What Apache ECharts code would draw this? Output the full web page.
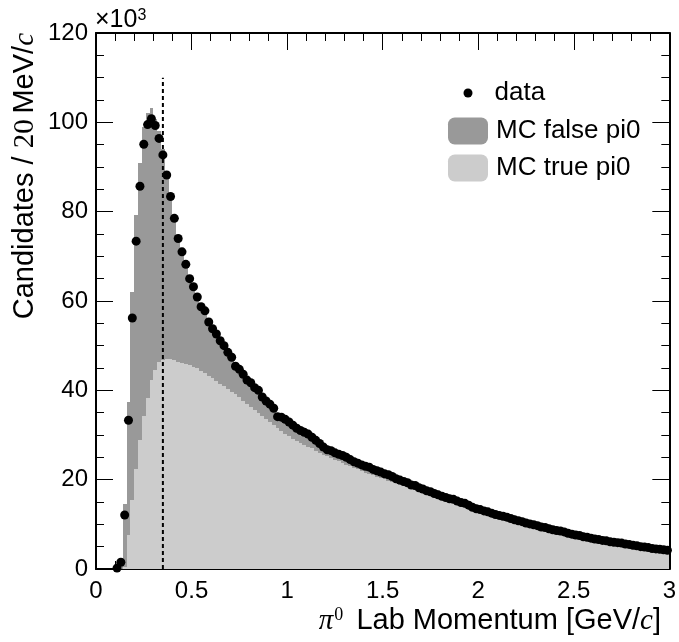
<!DOCTYPE html>
<html>
<head>
<meta charset="utf-8">
<script src="https://cdn.jsdelivr.net/npm/echarts@6.0.0/dist/echarts.min.js"></script>
<style>html,body{margin:0;padding:0;background:#fff}#chart{width:679px;height:642px}</style>
</head>
<body>
<div id="chart"></div>
<script>
// ---- binning (20 MeV bins from 0 to 3 GeV) ----
const binWidth = 0.02;
const xMin = 0, xMax = 3;
const yMin = 0, yMax = 120;
const xTickLabels = ['0', '0.5', '1', '1.5', '2', '2.5', '3'];
const yTickLabels = ['0', '20', '40', '60', '80', '100', '120'];

// ---- data points (per bin, x10^3), null = no point ----
const dataCounts = [
  null, null, null, null, null, 0.2, 1.5, 12.1, 33.3, 56.2,
  73.4, 85.7, 95.1, 99.5, 100.8, 99.3, 96.4, 92.7, 88.2, 83.4,
  78.5, 74.0, 71.0, 68.2, 65.0, 63.2, 60.9, 58.7, 57.8, 55.3,
  53.8, 52.6, 51.1, 50.0, 48.5, 47.4, 45.4, 44.7, 43.6, 42.3,
  41.7, 40.6, 40.0, 38.5, 37.6, 36.9, 36.0, 34.1, 34.0, 33.5,
  32.9, 32.2, 31.5, 31.0, 30.6, 30.2, 29.5, 28.8, 28.1, 27.3,
  26.7, 26.5, 26.0, 25.7, 25.4, 25.0, 24.5, 24.0, 23.7, 23.3,
  23.0, 22.8, 22.3, 22.0, 21.7, 21.3, 21.1, 20.7, 20.2, 19.9,
  19.6, 19.3, 18.8, 18.7, 18.2, 17.9, 17.5, 17.3, 16.9, 16.6,
  16.3, 16.0, 15.7, 15.6, 15.2, 14.9, 14.7, 14.3, 13.8, 13.5,
  13.3, 13.0, 12.8, 12.5, 12.2, 12.0, 11.8, 11.6, 11.3, 11.0,
  10.8, 10.6, 10.3, 10.1, 9.9, 9.7, 9.4, 9.3, 9.0, 8.8,
  8.6, 8.5, 8.3, 8.0, 7.8, 7.6, 7.5, 7.2, 7.1, 6.9,
  6.7, 6.6, 6.4, 6.3, 6.1, 6.0, 5.9, 5.8, 5.6, 5.5,
  5.3, 5.2, 5.0, 4.9, 4.8, 4.6, 4.5, 4.4, 4.3, 4.2
];

// ---- MC total (true + false pi0), per bin ----
const mcTotal = [
  0, 0, 0, 0, 0, 0, 0.6, 14.5, 37.4, 62.0,
  79.2, 90.8, 99.0, 102.0, 103.2, 100.8, 98.0, 94.0, 89.2, 84.2,
  79.3, 74.8, 71.6, 68.6, 65.5, 63.5, 61.3, 59.2, 57.6, 55.6,
  54.1, 52.7, 51.3, 50.0, 48.7, 47.4, 45.9, 44.8, 43.7, 42.5,
  41.6, 40.7, 39.8, 38.7, 37.8, 36.9, 36.0, 34.6, 34.0, 33.5,
  32.9, 32.3, 31.6, 31.1, 30.6, 30.1, 29.5, 28.8, 28.1, 27.4,
  26.9, 26.5, 26.1, 25.7, 25.3, 24.9, 24.5, 24.1, 23.7, 23.3,
  23.0, 22.7, 22.3, 22.0, 21.7, 21.4, 21.0, 20.6, 20.3, 20.0,
  19.6, 19.3, 18.9, 18.6, 18.2, 17.9, 17.6, 17.2, 16.9, 16.6,
  16.3, 16.0, 15.7, 15.5, 15.2, 14.9, 14.6, 14.3, 13.9, 13.6,
  13.3, 13.1, 12.8, 12.5, 12.2, 12.0, 11.8, 11.5, 11.3, 11.0,
  10.8, 10.6, 10.3, 10.1, 9.9, 9.7, 9.5, 9.3, 9.0, 8.8,
  8.6, 8.4, 8.2, 8.0, 7.8, 7.6, 7.4, 7.2, 7.1, 6.9,
  6.7, 6.6, 6.4, 6.3, 6.1, 6.0, 5.9, 5.7, 5.6, 5.5,
  5.3, 5.2, 5.0, 4.9, 4.8, 4.6, 4.5, 4.4, 4.3, 4.2
];

// ---- MC true pi0, per bin ----
const mcTrue = [
  0, 0, 0, 0, 0, 0, 0, 0.5, 7.6, 15.4,
  22.3, 28.9, 34.2, 38.3, 42.3, 44.5, 46.4, 46.9, 47.1, 47.0,
  46.7, 46.4, 46.2, 46.0, 45.7, 45.3, 45.0, 44.4, 43.8, 43.3,
  42.8, 42.2, 41.4, 40.9, 40.3, 39.7, 39.1, 38.4, 37.6, 36.9,
  36.2, 35.6, 34.9, 34.3, 33.6, 33.0, 32.3, 31.6, 31.0, 30.3,
  29.7, 29.2, 28.7, 28.3, 27.8, 27.4, 27.0, 26.5, 26.0, 25.6,
  25.2, 24.8, 24.4, 24.1, 23.7, 23.3, 23.0, 22.6, 22.3, 21.9,
  21.6, 21.3, 21.0, 20.7, 20.4, 20.1, 19.8, 19.5, 19.2, 18.9,
  18.6, 18.3, 18.0, 17.7, 17.3, 17.0, 16.7, 16.4, 16.1, 15.8,
  15.5, 15.2, 15.0, 14.7, 14.5, 14.2, 13.9, 13.7, 13.3, 13.0,
  12.7, 12.5, 12.3, 12.0, 11.7, 11.5, 11.3, 11.1, 10.8, 10.6,
  10.4, 10.2, 9.9, 9.7, 9.5, 9.3, 9.1, 8.9, 8.7, 8.5,
  8.3, 8.1, 7.9, 7.7, 7.5, 7.3, 7.2, 7.0, 6.8, 6.6,
  6.5, 6.3, 6.2, 6.0, 5.9, 5.7, 5.6, 5.5, 5.3, 5.2,
  5.1, 4.9, 4.8, 4.7, 4.5, 4.4, 4.3, 4.2, 4.1, 4.0
];

// ---- signal cut line ----
const cutMomentum = 0.35;
const cutLineTop = 110;

// ---- build series data ----
function binData(vals) {
  return vals.map((v, i) => [+(i * binWidth).toFixed(4), +((i + 1) * binWidth).toFixed(4), v]);
}
const pointData = [];
dataCounts.forEach((v, i) => { if (v !== null) pointData.push([+((i + 0.5) * binWidth).toFixed(4), v]); });

// One stepped outline per histogram, built from every bin through the axes
function histRenderer(color) {
  return function (params, api) {
    if (params.dataIndexInside !== 0) return null;
    const n = params.dataInsideLength;
    const pts = [];
    const r = (p) => [Math.round(p[0]), Math.round(p[1])];
    pts.push(r(api.coord([api.value(0, 0), 0])));
    for (let j = 0; j < n; j++) {
      const v = api.value(2, j);
      pts.push(r(api.coord([api.value(0, j), v])));
      pts.push(r(api.coord([api.value(1, j), v])));
    }
    pts.push(r(api.coord([api.value(1, n - 1), 0])));
    return { type: 'polygon', shape: { points: pts }, style: { fill: color, stroke: null, lineWidth: 0 } };
  };
}

const FONT = '"Liberation Sans", Arial, Helvetica, sans-serif';
const SERIF = '"Liberation Serif", "DejaVu Serif", serif';

const axisLineStyle = { color: '#000', width: 2 };
const tickStyle = { color: '#000', width: 1 };

function xAxisCfg(pos, showLabel) {
  return {
    type: 'value', position: pos, min: xMin, max: xMax, interval: 0.5,
    axisLine: { show: true, onZero: false, lineStyle: axisLineStyle },
    axisTick: { show: true, inside: true, length: 17, lineStyle: tickStyle },
    minorTick: { show: true, splitNumber: 5, length: 8, lineStyle: tickStyle },
    axisLabel: {
      show: showLabel, fontSize: 24, fontFamily: FONT, color: '#000', margin: 10,
      formatter: (v) => xTickLabels[Math.round(v / 0.5)]
    },
    splitLine: { show: false }, minorSplitLine: { show: false }
  };
}
function yAxisCfg(pos, showLabel) {
  return {
    type: 'value', position: pos, min: yMin, max: yMax, interval: 20,
    axisLine: { show: true, onZero: false, lineStyle: axisLineStyle },
    axisTick: { show: true, inside: true, length: 17, lineStyle: tickStyle },
    minorTick: { show: true, splitNumber: 4, length: 8, lineStyle: tickStyle },
    axisLabel: {
      show: showLabel, fontSize: 24, fontFamily: FONT, color: '#000', margin: 8,
      formatter: (v) => yTickLabels[Math.round(v / 20)]
    },
    splitLine: { show: false }, minorSplitLine: { show: false }
  };
}

const chart = echarts.init(document.getElementById('chart'), null, { renderer: 'canvas' });
chart.setOption({
  animation: false,
  backgroundColor: '#fff',
  grid: { left: 96, right: 7, top: 33, bottom: 73, containLabel: false },
  xAxis: [xAxisCfg('bottom', true), xAxisCfg('top', false)],
  yAxis: [yAxisCfg('left', true), yAxisCfg('right', false)],
  legend: [
    {
      data: [{ name: 'data', icon: 'circle' }],
      orient: 'vertical', left: 463.5, top: 80, padding: 0,
      itemWidth: 9, itemHeight: 9, itemGap: 10, itemTextGap: 22,
      textStyle: { fontSize: 26, fontFamily: FONT, color: '#000', lineHeight: 26, padding: [0, 0, 0, 17] },
      selectedMode: false
    },
    {
      data: [{ name: 'MC false pi0', icon: 'roundRect' }, { name: 'MC true pi0', icon: 'roundRect' }],
      orient: 'vertical', left: 448, top: 117.5, padding: 0,
      itemWidth: 40, itemHeight: 27, itemGap: 10, itemTextGap: 8,
      textStyle: { fontSize: 26, fontFamily: FONT, color: '#000', lineHeight: 27, padding: [0, 0, 0, 3] },
      selectedMode: false
    }
  ],
  series: [
    {
      name: 'MC false pi0', type: 'custom', data: binData(mcTotal),
      encode: { x: [0, 1], y: 2 }, renderItem: histRenderer('#999999'),
      itemStyle: { color: '#999999' }, z: 1, silent: true
    },
    {
      name: 'MC true pi0', type: 'custom', data: binData(mcTrue),
      encode: { x: [0, 1], y: 2 }, renderItem: histRenderer('#cccccc'),
      itemStyle: { color: '#cccccc' }, z: 2, silent: true
    },
    {
      name: 'cut', type: 'line', data: [[cutMomentum, 0], [cutMomentum, cutLineTop]],
      symbol: 'none', lineStyle: { color: '#000', width: 2, type: [4, 3] }, z: 3, silent: true
    },
    {
      name: 'data', type: 'scatter', data: pointData, symbol: 'circle', symbolSize: 9,
      itemStyle: { color: '#000', opacity: 1 }, color: '#000', z: 5, silent: true
    }
  ],
  graphic: [
    {
      type: 'text', x: 25, y: 33, rotation: Math.PI / 2,
      style: {
        text: 'Candidates / {n|20}\u2009MeV/{i|c}',
        fontSize: 29, fontFamily: FONT, fill: '#000', align: 'right', verticalAlign: 'middle',
        rich: {
          n: { fontSize: 29, fontFamily: SERIF, fill: '#000' },
          i: { fontSize: 29, fontFamily: SERIF, fontStyle: 'italic', fill: '#000' }
        }
      }
    },
    {
      type: 'text', x: 661, y: 621,
      style: {
        text: '{p|\u03c0}{s|0} Lab Momentum [GeV/{i|c}]',
        fontSize: 29, fontFamily: FONT, fill: '#000', align: 'right', verticalAlign: 'middle',
        rich: {
          p: { fontSize: 29, fontFamily: SERIF, fontStyle: 'italic', fill: '#000' },
          s: { fontSize: 18, fontFamily: SERIF, fill: '#000', verticalAlign: 'top', padding: [0, 5, 0, 1] },
          i: { fontSize: 29, fontFamily: SERIF, fontStyle: 'italic', fill: '#000' }
        }
      }
    },
    {
      type: 'text', x: 95, y: 20,
      style: {
        text: '\u00d710{s|3}',
        fontSize: 25, fontFamily: FONT, fill: '#000', align: 'left', verticalAlign: 'middle',
        rich: { s: { fontSize: 16, fontFamily: FONT, fill: '#000', verticalAlign: 'top' } }
      }
    }
  ]
});
</script>
</body>
</html>
